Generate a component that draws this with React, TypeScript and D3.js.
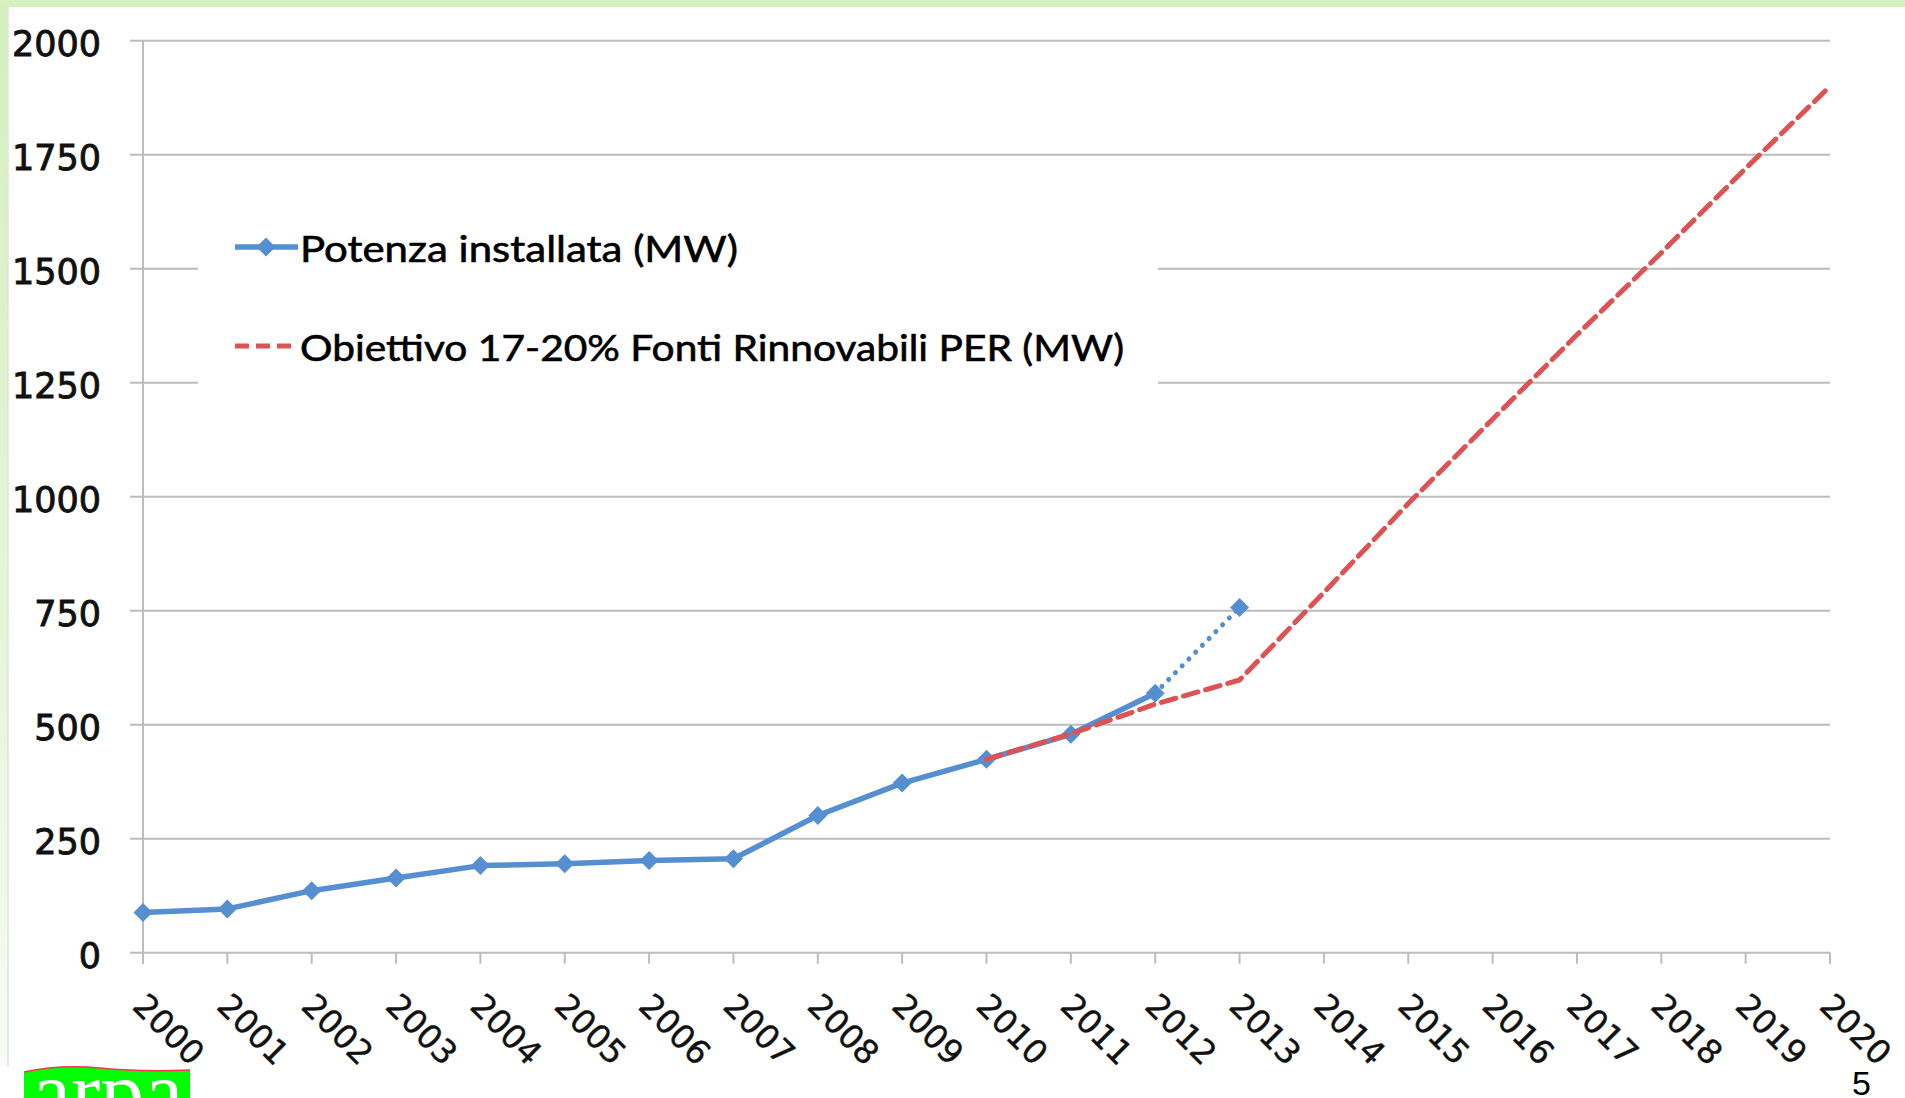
import React from 'react';
import * as d3 from 'd3';

const years = [2000, 2001, 2002, 2003, 2004, 2005, 2006, 2007, 2008, 2009, 2010, 2011, 2012, 2013, 2014, 2015, 2016, 2017, 2018, 2019, 2020];

// Potenza installata (MW): solid up to 2012, dotted to 2013
const installedYears = [2000, 2001, 2002, 2003, 2004, 2005, 2006, 2007, 2008, 2009, 2010, 2011, 2012, 2013];
const installedValues = [88, 96, 136, 164, 191, 195, 202, 206, 301, 372, 424, 479, 569, 757];

// Obiettivo PER (MW)
const targetYears = [2010, 2011, 2012, 2013, 2014, 2015, 2016, 2017, 2018, 2019, 2020];
const targetValues = [424, 480, 545, 598, 790, 985, 1170, 1355, 1535, 1720, 1900];

const yTicks = [0, 250, 500, 750, 1000, 1250, 1500, 1750, 2000];

const legendLabels = ['Potenza installata (MW)', 'Obiettivo 17-20% Fonti Rinnovabili PER (MW)'];

const W = 1905;
const H = 1098;
const BLUE = '#558fd2';
const RED = '#dd5353';
const GRID = '#bdbdbd';

const App: React.FC = () => {
  const x = d3.scaleLinear().domain([2000, 2020]).range([143, 1830]);
  const y = d3.scaleLinear().domain([0, 2000]).range([952.7, 40.7]);

  const installed = installedYears.map((yr, i) => ({ yr, v: installedValues[i] }));
  const target = targetYears.map((yr, i) => ({ yr, v: targetValues[i] }));

  const line = d3.line<{ yr: number; v: number }>()
    .x(d => x(d.yr))
    .y(d => y(d.v));

  const solidPart = installed.filter(d => d.yr <= 2012);
  const dottedPart = installed.filter(d => d.yr >= 2012);

  const diamond = d3.symbol().type(d3.symbolDiamond2).size(230)() || '';

  const x0 = x(2000);
  const y0 = y(0);

  return (
    <div style={{ position: 'fixed', left: 0, top: 0, width: W, height: H, background: '#fff' }}>
      <svg width={W} height={H} viewBox={`0 0 ${W} ${H}`} style={{ display: 'block' }}>
        <defs>
          <linearGradient id="leftBar" x1="0" y1="0" x2="0" y2="1">
            <stop offset="0%" stopColor="#d3efbd" />
            <stop offset="70%" stopColor="#eaf7e0" />
            <stop offset="100%" stopColor="#f8fcf5" />
          </linearGradient>
        </defs>

        {/* slide frame */}
        <rect x={0} y={0} width={W} height={H} fill="#fff" />
        <rect x={0} y={0} width={8} height={1066} fill="url(#leftBar)" />
        <rect x={0} y={0} width={W} height={7} fill="#d6f0c0" />
        <line x1={8} x2={8} y1={7} y2={1066} stroke="#e2e2e2" strokeWidth={1.5} />

        {/* horizontal gridlines */}
        {yTicks.map(t => (
          <line key={t} x1={x0 - 13} x2={x(2020)} y1={y(t)} y2={y(t)} stroke={GRID} strokeWidth={2} />
        ))}

        {/* y axis line */}
        <line x1={x0} x2={x0} y1={y(2000)} y2={y0 + 11} stroke={GRID} strokeWidth={2} />

        {/* x ticks */}
        {years.map(yr => (
          <line key={yr} x1={x(yr)} x2={x(yr)} y1={y0} y2={y0 + 11} stroke={GRID} strokeWidth={2} />
        ))}

        {/* y labels */}
        {yTicks.map(t => (
          <text key={t} x={101} y={y(t) + 15} textAnchor="end" fontFamily="DejaVu Sans" fontSize={35}
            fill="#111" stroke="#111" strokeWidth={0.9}>
            {t}
          </text>
        ))}

        {/* x labels */}
        {years.map(yr => (
          <text
            key={yr}
            transform={`translate(${x(yr) - 12},${y0 + 55}) rotate(45)`}
            fontFamily="DejaVu Sans"
            fontSize={33}
            fill="#111"
            stroke="#111"
            strokeWidth={0.4}
          >
            {yr}
          </text>
        ))}

        {/* legend background hides gridlines */}
        <rect x={198} y={195} width={960} height={210} fill="#fff" />
        <g>
          <line x1={235} x2={298} y1={247} y2={247} stroke={BLUE} strokeWidth={5.5} />
          <path d={diamond} transform="translate(266,247)" fill={BLUE} />
          <text x={300} y={262} fontFamily="Lato" fontSize={37} fill="#000" stroke="#000" strokeWidth={0.6}
            textLength={438} lengthAdjust="spacingAndGlyphs">
            {legendLabels[0]}
          </text>
          <line x1={235} x2={298} y1={346} y2={346} stroke={RED} strokeWidth={5} strokeDasharray="14 7" />
          <text x={300} y={361} fontFamily="Lato" fontSize={37} fill="#000" stroke="#000" strokeWidth={0.6}
            textLength={824} lengthAdjust="spacingAndGlyphs">
            {legendLabels[1]}
          </text>
        </g>

        {/* installed series */}
        <path d={line(solidPart) || ''} fill="none" stroke={BLUE} strokeWidth={5.5} strokeLinejoin="round" />
        <path d={line(dottedPart) || ''} fill="none" stroke={BLUE} strokeWidth={5} strokeDasharray="0.1 9.5" strokeLinecap="round" />
        {installed.map(d => (
          <path key={d.yr} d={diamond} transform={`translate(${x(d.yr)},${y(d.v)})`} fill={BLUE} />
        ))}

        {/* target series */}
        <path d={line(target) || ''} fill="none" stroke={RED} strokeWidth={5} strokeDasharray="15 8" strokeLinecap="round" strokeLinejoin="round" />

        {/* footer */}
        <rect x={0} y={1066} width={W} height={32} fill="#fff" />
        <path d="M24,1072 Q60,1064 100,1068 T190,1070 L190,1098 L24,1098 Z" fill="#00ff00" />
        <path d="M24,1072 Q60,1064 100,1068 T190,1070" fill="none" stroke="#ff3050" strokeWidth={1.5} />
        <text x={32} y={1122} fontFamily="Liberation Serif" fontSize={88} fill="#fff">arpa</text>
        <text x={1852} y={1095} fontFamily="Liberation Sans" fontSize={34} fill="#000">5</text>
      </svg>
    </div>
  );
};

export default App;
